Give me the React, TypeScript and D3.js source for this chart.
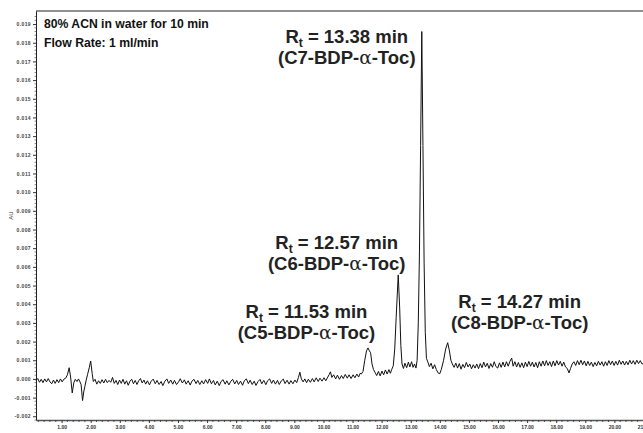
import React, { useEffect, useRef } from 'react';
import * as d3 from 'd3';

const xTicks = [1, 2, 3, 4, 5, 6, 7, 8, 9, 10, 11, 12, 13, 14, 15, 16, 17, 18, 19, 20, 21];
const yTicks = [-0.002, -0.001, 0, 0.001, 0.002, 0.003, 0.004, 0.005, 0.006, 0.007, 0.008, 0.009,
  0.01, 0.011, 0.012, 0.013, 0.014, 0.015, 0.016, 0.017, 0.018, 0.019];
const conditions = ['80% ACN in water for 10 min', 'Flow Rate: 1 ml/min'];
const yLabel = 'AU';

const peakLabels = [
  { rt: 13.38, compound: 'C7' },
  { rt: 12.57, compound: 'C6' },
  { rt: 11.53, compound: 'C5' },
  { rt: 14.27, compound: 'C8' },
];

// [time (min), absorbance (AU)]
const trace: [number, number][] = [
  [0.12, -0.00008], [0.18, 0.00002], [0.24, -0.00018], [0.3, -0.00002], [0.36, -0.0002], [0.42, 0.0],
  [0.48, -0.00016], [0.54, 0.00002], [0.6, -0.00016], [0.66, -0.00026], [0.72, -0.00006], [0.78, -0.00024],
  [0.84, -0.00004], [0.9, -0.0002], [0.96, 0.0], [1.02, -0.00016], [1.08, -0.00001], [1.14, 0.00004],
  [1.2, 0.00022], [1.26, 0.0006], [1.31, 0.0001], [1.365, -0.00075], [1.42, -0.0002], [1.47, -0.00002],
  [1.53, -0.00014], [1.58, 0.0], [1.62, -0.00012], [1.67, -0.0003], [1.72, -0.00116], [1.76, -0.0007],
  [1.8, -0.0004], [1.84, -0.0001], [1.89, 0.00022], [1.95, 0.0006], [2.0, 0.00096], [2.05, 0.0003],
  [2.09, -0.00014], [2.15, -0.00002], [2.21, -0.00028], [2.27, -0.0001], [2.33, -0.00024], [2.39, -0.00004],
  [2.45, -0.00022], [2.51, -0.00002], [2.57, -0.0002], [2.63, -0.00008], [2.69, -0.00018], [2.75, 0.00008],
  [2.81, -0.00024], [2.87, -0.00008], [2.93, -0.0003], [2.99, -0.00006], [3.05, -0.00024], [3.11, -0.00002],
  [3.17, -0.00028], [3.23, -0.0001], [3.29, -0.00034], [3.35, -0.00012], [3.41, -0.00002], [3.47, -0.00026],
  [3.53, -0.00008], [3.59, -0.0003], [3.65, -0.0001], [3.71, 0.00002], [3.77, -0.00022], [3.83, -0.00006],
  [3.89, -0.00028], [3.95, -0.0001], [4.02, -0.00032], [4.08, -0.00012], [4.15, -0.00001], [4.22, -0.00026],
  [4.28, -0.00008], [4.35, -0.0003], [4.42, -0.00014], [4.48, -0.00036], [4.55, -0.00012], [4.62, 0.0],
  [4.68, -0.00024], [4.75, -0.00006], [4.82, -0.00028], [4.88, -0.00008], [4.95, -0.0003], [5.02, -0.00016],
  [5.08, 0.00001], [5.15, -0.00022], [5.22, -0.00005], [5.28, -0.00028], [5.35, -0.0001], [5.42, -0.00033],
  [5.48, -0.00012], [5.55, -0.00002], [5.62, -0.00025], [5.68, -0.00008], [5.75, -0.0003], [5.82, -0.0001],
  [5.88, -0.00027], [5.95, -0.00004], [6.02, -0.00024], [6.08, 0.0], [6.15, -0.00026], [6.22, -0.00008],
  [6.28, -0.00032], [6.35, -0.00012], [6.42, -0.00036], [6.48, -0.00014], [6.55, -0.00004], [6.62, -0.00028],
  [6.68, -0.0001], [6.75, -0.00032], [6.82, -0.00012], [6.88, -0.00002], [6.95, -0.00027], [7.02, -0.00008],
  [7.08, -0.0003], [7.15, -0.00012], [7.22, -0.00034], [7.28, -0.0001], [7.35, 0.0], [7.42, -0.00025],
  [7.48, -0.00007], [7.55, -0.0003], [7.62, -0.00012], [7.68, -0.00035], [7.75, -0.00014], [7.82, -0.00003],
  [7.88, -0.00026], [7.95, -0.00008], [8.02, -0.00031], [8.08, -0.0001], [8.15, 0.0], [8.22, -0.00024],
  [8.28, -0.00006], [8.35, -0.00028], [8.42, -0.00008], [8.48, -0.0003], [8.55, -0.00011], [8.62, -0.00001],
  [8.68, -0.00025], [8.75, -0.00007], [8.82, -0.00028], [8.88, -0.00009], [8.95, -0.00026], [9.02, -0.00006],
  [9.08, -0.0002], [9.14, 0.00008], [9.19, 0.00036], [9.24, 0.0], [9.3, -0.00016], [9.36, 0.0],
  [9.42, -0.0002], [9.48, -0.00002], [9.55, -0.00018], [9.62, 0.00002], [9.68, -0.00016], [9.75, 0.00006],
  [9.82, -0.00014], [9.88, 0.00004], [9.95, -0.00012], [10.02, 0.00006], [10.08, -0.0001], [10.15, 0.0001],
  [10.2, 0.00024], [10.24, 0.00038], [10.29, 0.00008], [10.35, 0.00022], [10.42, 0.0], [10.48, 0.0002],
  [10.55, -0.00002], [10.62, 0.00018], [10.68, 0.00002], [10.75, 0.00024], [10.82, 0.00004], [10.88, 0.00022],
  [10.95, 0.00002], [11.02, 0.00022], [11.08, 0.00006], [11.15, 0.00026], [11.21, 0.0001], [11.26, 0.0003],
  [11.3, 0.00026], [11.36, 0.0004], [11.42, 0.001], [11.48, 0.0015], [11.53, 0.00166], [11.58, 0.0015],
  [11.62, 0.0014], [11.67, 0.0008], [11.72, 0.0005], [11.77, 0.00036], [11.83, 0.00018], [11.89, 0.0004],
  [11.95, 0.00016], [12.01, 0.00042], [12.07, 0.00022], [12.13, 0.00048], [12.19, 0.00026], [12.25, 0.0005],
  [12.3, 0.0003], [12.35, 0.00052], [12.4, 0.0007], [12.45, 0.0016], [12.5, 0.0033], [12.57, 0.00557],
  [12.62, 0.0038], [12.66, 0.0018], [12.7, 0.0008], [12.75, 0.00056], [12.8, 0.00084], [12.86, 0.0006],
  [12.92, 0.0009], [12.97, 0.00064], [13.03, 0.00092], [13.08, 0.00062], [13.13, 0.0008], [13.18, 0.00058],
  [13.22, 0.001], [13.26, 0.003], [13.3, 0.0068], [13.34, 0.0125], [13.38, 0.0186], [13.42, 0.0125],
  [13.46, 0.0062], [13.5, 0.0025], [13.54, 0.0011], [13.59, 0.0009], [13.64, 0.00066], [13.7, 0.00084],
  [13.76, 0.00054], [13.82, 0.00076], [13.88, 0.0005], [13.94, 0.00032], [14.0, 0.00028], [14.05, 0.0005],
  [14.13, 0.001], [14.2, 0.0016], [14.27, 0.00194], [14.33, 0.0015], [14.38, 0.001], [14.43, 0.0008],
  [14.49, 0.00062], [14.55, 0.00085], [14.61, 0.00058], [14.67, 0.00082], [14.73, 0.00052], [14.79, 0.00078],
  [14.85, 0.0006], [14.91, 0.00088], [14.97, 0.00064], [15.03, 0.0008], [15.09, 0.00054], [15.15, 0.00076],
  [15.21, 0.00058], [15.27, 0.0008], [15.33, 0.00055], [15.39, 0.00082], [15.45, 0.0006], [15.51, 0.0009],
  [15.57, 0.00064], [15.63, 0.00084], [15.69, 0.00056], [15.75, 0.00082], [15.81, 0.00062], [15.87, 0.00092],
  [15.93, 0.00066], [15.99, 0.00058], [16.05, 0.00086], [16.11, 0.00062], [16.17, 0.0009], [16.23, 0.00064],
  [16.29, 0.00092], [16.35, 0.00068], [16.41, 0.00094], [16.47, 0.00112], [16.52, 0.00068], [16.58, 0.00092],
  [16.64, 0.00064], [16.7, 0.00088], [16.76, 0.00062], [16.82, 0.00086], [16.88, 0.0006], [16.94, 0.0009],
  [17.0, 0.00066], [17.06, 0.00094], [17.12, 0.00068], [17.18, 0.0009], [17.24, 0.00064], [17.3, 0.00088],
  [17.36, 0.0006], [17.42, 0.00092], [17.48, 0.00068], [17.54, 0.00096], [17.6, 0.0007], [17.66, 0.00098],
  [17.72, 0.00072], [17.78, 0.00092], [17.84, 0.00066], [17.9, 0.00096], [17.96, 0.0007], [18.02, 0.00098],
  [18.08, 0.00074], [18.14, 0.00094], [18.2, 0.00068], [18.26, 0.0009], [18.32, 0.00064], [18.38, 0.00056],
  [18.44, 0.00032], [18.49, 0.00055], [18.55, 0.0008], [18.61, 0.00092], [18.67, 0.00072], [18.73, 0.00098],
  [18.79, 0.00076], [18.85, 0.001], [18.91, 0.00076], [18.97, 0.00096], [19.03, 0.0007], [19.09, 0.00094],
  [19.15, 0.00072], [19.21, 0.0009], [19.27, 0.00066], [19.33, 0.00088], [19.39, 0.0007], [19.45, 0.00094],
  [19.51, 0.00074], [19.57, 0.00092], [19.63, 0.00068], [19.69, 0.00092], [19.75, 0.00072], [19.81, 0.00098],
  [19.87, 0.00076], [19.93, 0.00096], [19.99, 0.00072], [20.05, 0.00094], [20.11, 0.00074], [20.17, 0.001],
  [20.23, 0.00078], [20.29, 0.00096], [20.35, 0.00074], [20.41, 0.00094], [20.47, 0.00076], [20.53, 0.001],
  [20.59, 0.0008], [20.65, 0.00098], [20.71, 0.00078], [20.77, 0.001], [20.83, 0.00082], [20.89, 0.00098],
  [20.95, 0.0008], [21.1, 0.0009],
];

const App = () => {
  const ref = useRef<SVGSVGElement>(null);

  useEffect(() => {
    const svg = d3.select(ref.current);
    svg.selectAll('*').remove();
    const font = 'Liberation Sans, Arial, sans-serif';

    const left = 36, top = 11, bottom = 420;
    const x = d3.scaleLinear().domain([0.12, 21.2]).range([left, 649.3]);
    const y = d3.scaleLinear().domain([-0.0022, 0.0197]).range([bottom, top]);

    // top frame line
    svg.append('line')
      .attr('x1', left).attr('x2', 660).attr('y1', top).attr('y2', top)
      .attr('stroke', '#222').attr('stroke-width', 1);

    // x axis
    const gx = svg.append('g')
      .attr('transform', `translate(0,${bottom})`)
      .call(d3.axisBottom(x).tickValues(xTicks).tickFormat(d => (+d).toFixed(2)).tickSize(3).tickSizeOuter(0));
    gx.select('.domain').attr('stroke', '#555').attr('stroke-width', 1.3);
    gx.selectAll('.tick line').attr('stroke', '#333');
    gx.selectAll('text').attr('font-size', 5).attr('font-weight', 'bold').attr('font-family', font)
      .attr('fill', '#333').attr('dy', '0.6em');
    gx.selectAll('line.minor')
      .data(d3.range(0.2, 21.1, 0.2).filter(v => Math.abs(v - Math.round(v)) > 0.01))
      .join('line').attr('class', 'minor')
      .attr('x1', d => x(d)).attr('x2', d => x(d)).attr('y1', 0).attr('y2', 2)
      .attr('stroke', '#333').attr('stroke-width', 0.8);

    // y axis
    const gy = svg.append('g')
      .attr('transform', `translate(${left},0)`)
      .call(d3.axisLeft(y).tickValues(yTicks).tickFormat(d => (+d).toFixed(3)).tickSize(3).tickSizeOuter(0));
    gy.select('.domain').attr('stroke', '#222').attr('stroke-width', 1);
    gy.selectAll('.tick line').attr('stroke', '#333');
    gy.selectAll('text').attr('font-size', 5).attr('font-weight', 'bold').attr('font-family', font)
      .attr('fill', '#444').attr('letter-spacing', 0.4).attr('x', -5);
    gy.selectAll('line.minor')
      .data(d3.range(-0.0022, 0.0196, 0.0002).filter(v => Math.abs(v * 1000 - Math.round(v * 1000)) > 0.01))
      .join('line').attr('class', 'minor')
      .attr('x1', -1.5).attr('x2', 0).attr('y1', d => y(d)).attr('y2', d => y(d))
      .attr('stroke', '#333').attr('stroke-width', 0.6);

    svg.append('text')
      .attr('transform', `translate(13,${(top + bottom) / 2}) rotate(-90)`)
      .attr('text-anchor', 'middle')
      .attr('font-size', 6).attr('font-family', font).attr('fill', '#333')
      .text(yLabel);

    // chromatogram trace
    svg.append('path')
      .datum(trace)
      .attr('fill', 'none')
      .attr('stroke', '#111')
      .attr('stroke-width', 1)
      .attr('stroke-linejoin', 'round')
      .attr('d', d3.line<[number, number]>().x(d => x(d[0])).y(d => y(d[1])));

    // run conditions
    svg.selectAll('text.cond')
      .data(conditions)
      .join('text').attr('class', 'cond')
      .attr('x', 44).attr('y', (d, i) => 28 + i * 19)
      .attr('font-size', 12.2).attr('font-weight', 'bold').attr('font-family', font).attr('fill', '#111')
      .text(d => d);

    // peak labels: offset from peak apex
    const offsets: Record<string, [number, number]> = {
      C7: [-75, 11],
      C6: [-61.5, -26],
      C5: [-61.5, -30],
      C8: [72, -35],
    };
    const apex = (rt: number) => trace.reduce((a, b) => (Math.abs(b[0] - rt) < Math.abs(a[0] - rt) ? b : a));

    peakLabels.forEach(p => {
      const pk = apex(p.rt);
      const [dx, dy] = offsets[p.compound];
      const cx = x(pk[0]) + dx;
      const by = y(pk[1]) + dy;
      const t1 = svg.append('text')
        .attr('x', cx).attr('y', by).attr('text-anchor', 'middle')
        .attr('font-size', 18.5).attr('font-weight', 'bold').attr('font-family', font).attr('fill', '#222');
      t1.append('tspan').text('R');
      t1.append('tspan').attr('font-size', 12).attr('dy', 4).text('t');
      t1.append('tspan').attr('dy', -4).text(` = ${p.rt.toFixed(2)} min`);

      const t2 = svg.append('text')
        .attr('x', cx).attr('y', by + 21).attr('text-anchor', 'middle')
        .attr('font-size', 18.5).attr('font-weight', 'bold').attr('font-family', font).attr('fill', '#222');
      t2.append('tspan').text(`(${p.compound}-BDP-`);
      t2.append('tspan').attr('font-weight', 'normal').attr('font-family', 'DejaVu Serif, serif').text('α');
      t2.append('tspan').text('-Toc)');
    });
  }, []);

  return (
    <svg ref={ref} width={643} height={433}
      style={{ position: 'absolute', left: 0, top: 0, background: '#fff', overflow: 'hidden' }} />
  );
};

export default App;
